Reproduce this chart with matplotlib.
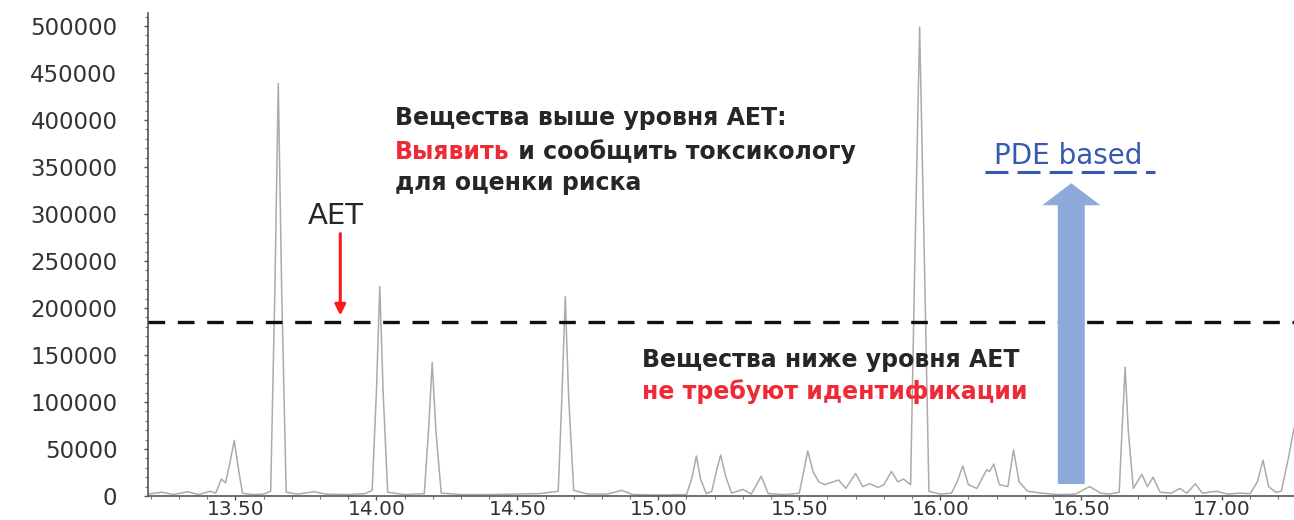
import matplotlib
matplotlib.use("Agg")
import matplotlib.pyplot as plt
import matplotlib.ticker as ticker
from matplotlib.patches import FancyArrow

# retention time (min) and detector response
rt = [
    13.19, 13.24, 13.28, 13.33, 13.37, 13.41, 13.43, 13.45, 13.465, 13.48,
    13.496, 13.51, 13.525, 13.56, 13.60, 13.625, 13.64, 13.652, 13.664, 13.68,
    13.72, 13.78, 13.82, 13.90, 13.96, 13.985, 14.0, 14.012, 14.024, 14.04,
    14.10, 14.17, 14.185, 14.198, 14.211, 14.23, 14.30, 14.40, 14.50, 14.58,
    14.645, 14.658, 14.670, 14.682, 14.70, 14.75, 14.82, 14.87, 14.91, 15.00,
    15.10, 15.12, 15.135, 15.15, 15.17, 15.19, 15.205, 15.221, 15.24, 15.26,
    15.30, 15.33, 15.365, 15.39, 15.45, 15.50, 15.515, 15.53, 15.55, 15.57,
    15.59, 15.61, 15.64, 15.665, 15.70, 15.725, 15.75, 15.78, 15.80, 15.827,
    15.85, 15.87, 15.895, 15.91, 15.927, 15.944, 15.96, 16.00, 16.04, 16.06,
    16.08, 16.10, 16.13, 16.165, 16.175, 16.19, 16.21, 16.24, 16.26, 16.28,
    16.31, 16.36, 16.42, 16.48, 16.53, 16.57, 16.60, 16.635, 16.645, 16.656,
    16.667, 16.685, 16.715, 16.735, 16.755, 16.78, 16.82, 16.85, 16.875, 16.905,
    16.93, 16.98, 17.02, 17.06, 17.10, 17.125, 17.145, 17.165, 17.19, 17.21,
    17.235, 17.255,
]
intensity = [
    2000, 4000, 1500, 4500, 1500, 5000, 3000, 18000, 14000, 35000,
    59000, 30000, 3000, 1500, 2000, 5000, 220000, 439000, 220000, 4000,
    2000, 4500, 2000, 1500, 2500, 6000, 110000, 223000, 110000, 4000,
    1500, 2500, 70000, 142000, 70000, 3000, 1500, 1500, 2000, 2500,
    5000, 105000, 212000, 105000, 6000, 2000, 2000, 6000, 1500, 1000,
    1500, 20000, 42500, 18000, 2500, 5000, 25000, 43500, 20000, 3000,
    7000, 2000, 21000, 2500, 1500, 3000, 25000, 48000, 25000, 15000,
    12000, 14000, 17000, 8000, 24000, 10000, 13000, 9000, 12000, 26000,
    15000, 18000, 12000, 250000, 499000, 250000, 5000, 2000, 3000, 15000,
    32000, 12000, 8000, 28000, 26000, 34000, 12000, 10000, 49000, 15000,
    5000, 3000, 1500, 2000, 10000, 3000, 2000, 4000, 70000, 137000,
    70000, 8000, 23000, 10000, 20000, 4000, 3000, 8000, 3000, 13000,
    3000, 5000, 2000, 3000, 2500, 15000, 38000, 10000, 4000, 5000,
    40000, 72000,
]

aet_level = 185000
x_ticks = [13.50, 14.00, 14.50, 15.00, 15.50, 16.00, 16.50, 17.00]
y_ticks = [0, 50000, 100000, 150000, 200000, 250000, 300000, 350000, 400000, 450000, 500000]

DARK = "#262626"
RED = "#ee2a36"
BLUE = "#3558b0"

fig = plt.figure(figsize=(12.94, 5.2), dpi=100)
# axes box: left spine at x=148 px, baseline at y=496 px, top at y=13 px
ax = fig.add_axes([0.1144, 0.0462, 0.8856, 0.9288])

ax.plot(rt, intensity, color="#ababab", lw=1.1, zorder=2)
ax.axhline(aet_level, color="#111111", lw=2.4, dashes=(5, 3.8), zorder=3)

ax.set_xlim(13.19, 17.255)
ax.set_ylim(0, 513800)
ax.set_xticks(x_ticks)
ax.set_yticks(y_ticks)
ax.xaxis.set_major_formatter(ticker.FormatStrFormatter("%.2f"))
ax.yaxis.set_major_formatter(ticker.FormatStrFormatter("%d"))
ax.xaxis.set_minor_locator(ticker.MultipleLocator(0.1))
ax.yaxis.set_minor_locator(ticker.MultipleLocator(10000))
ax.tick_params(axis="both", which="major", labelcolor="#333333",
               color="#555555", length=3, width=1)
ax.tick_params(axis="both", which="minor", color="#777777", length=2, width=0.8)
ax.tick_params(axis="y", labelsize=16.5, pad=19)
ax.tick_params(axis="x", labelsize=14.5, pad=0)
for side in ("top", "right"):
    ax.spines[side].set_visible(False)
for side in ("left", "bottom"):
    ax.spines[side].set_color("#555555")
    ax.spines[side].set_linewidth(1.2)

txt_font = dict(family=["DejaVu Sans"], fontsize=17, fontweight="bold")

ax.text(14.067, 402000, "Вещества выше уровня АЕТ:", color=DARK, va="center", **txt_font)
t_red = ax.text(14.067, 366000, "Выявить", color=RED, va="center", **txt_font)
ax.annotate(" и сообщить токсикологу", xy=(1, 0), xycoords=t_red, va="bottom",
            color=DARK, **txt_font)
ax.text(14.067, 333000, "для оценки риска", color=DARK, va="center", **txt_font)

ax.text(14.943, 145000, "Вещества ниже уровня АЕТ", color=DARK, va="center", **txt_font)
ax.text(14.943, 111500, "не требуют идентификации", color=RED, va="center", **txt_font)

# AET marker
ax.text(13.855, 298000, "АЕТ", color=DARK, ha="center", va="center",
        family=["DejaVu Sans"], fontsize=21)
ax.annotate("", xy=(13.872, 189000), xytext=(13.872, 282000),
            arrowprops=dict(arrowstyle="-|>", color="#ff1a1a", lw=2.2,
                            mutation_scale=16), zorder=5)

# PDE based arrow
ax.add_patch(FancyArrow(16.465, 12700, 0, 320000, width=0.0957, head_width=0.206,
                        head_length=23400, length_includes_head=True,
                        color="#8eaadb", lw=0, zorder=4))
ax.text(16.454, 362000, "PDE based", color=BLUE, ha="center", va="center",
        family=["DejaVu Sans"], fontsize=20)
ax.plot([16.16, 16.762], [345000, 345000], color=BLUE, lw=2.2,
        dashes=(7.5, 3), solid_capstyle="butt", zorder=4)

fig.savefig("out.png", dpi=100)
